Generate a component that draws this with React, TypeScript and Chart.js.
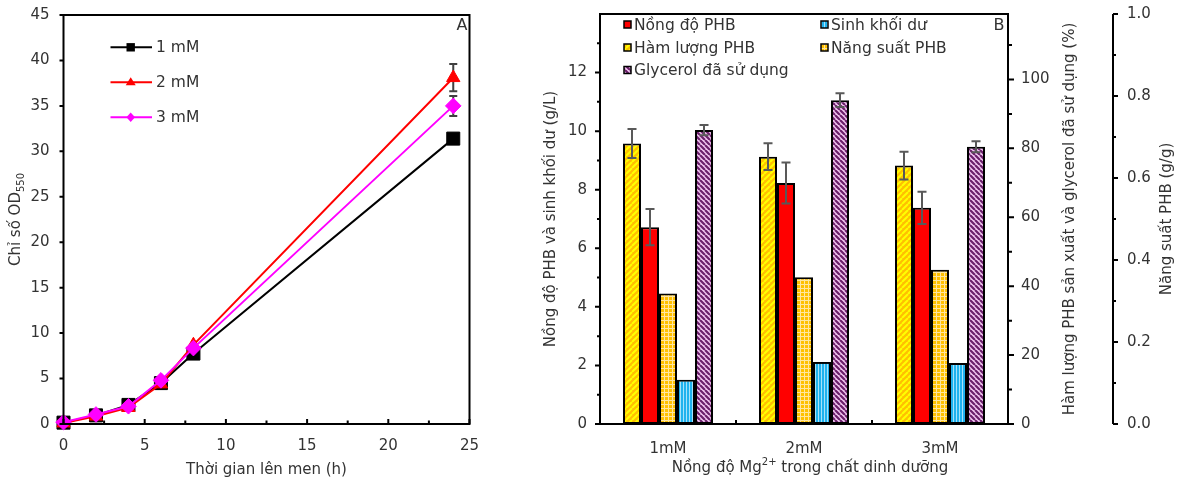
import React, { useEffect, useRef } from 'react';
import { Chart, registerables } from 'chart.js';

Chart.register(...registerables);

const FONT_FAMILY = '"DejaVu Sans", "Liberation Sans", sans-serif';
const TEXT_COLOR = '#333333';

// ---------------- Panel A data ----------------
const timeHours = [0, 2, 4, 6, 8, 24];
const od1mM = [0.15, 0.95, 2.1, 4.5, 7.75, 31.4];
const od2mM = [0.1, 0.85, 1.8, 4.4, 8.7, 38.1];
const od3mM = [0.2, 1.05, 1.95, 4.8, 8.35, 35.0];
const od1mMErr = [0, 0, 0, 0, 0, 0.5];
const od2mMErr = [0, 0, 0, 0, 0, 1.5];
const od3mMErr = [0, 0, 0, 0, 0, 1.1];
const seriesLabelsA = ['1 mM', '2 mM', '3 mM'];
const xTicksA = [0, 5, 10, 15, 20, 25];
const xMinorTicksA = [2.5, 7.5, 12.5, 17.5, 22.5];
const yTicksA = [0, 5, 10, 15, 20, 25, 30, 35, 40, 45];
const xTitleA = 'Thời gian lên men (h)';
const yTitleA = 'Chỉ số OD';
const yTitleASub = '550';
const panelLabelA = 'A';

// ---------------- Panel B data ----------------
const mgLevels = ['1mM', '2mM', '3mM'];
const phbContent = [81.4, 77.6, 75.0]; // %
const phbContentErr = [4.2, 3.9, 4.0];
const phbConcentration = [6.72, 8.23, 7.38]; // g/L
const phbConcentrationErr = [0.62, 0.7, 0.55];
const phbYield = [0.318, 0.358, 0.376]; // g/g
const residualBiomass = [1.51, 2.12, 2.08]; // g/L
const glycerolUsed = [85.3, 94.0, 80.5]; // %
const glycerolUsedErr = [1.5, 2.0, 1.6];
const seriesLabelsB = ['Hàm lượng PHB', 'Nồng độ PHB', 'Năng suất PHB', 'Sinh khối dư', 'Glycerol đã sử dụng'];
const yTicksLeftB = [0, 2, 4, 6, 8, 10, 12];
const yMinorLeftB = [1, 3, 5, 7, 9, 11, 13];
const yTicksPctB = [0, 20, 40, 60, 80, 100];
const yMinorPctB = [10, 30, 50, 70, 90, 110];
const yTicksYieldB = [0, 0.2, 0.4, 0.6, 0.8, 1.0];
const yMinorYieldB = [0.1, 0.3, 0.5, 0.7, 0.9];
const yTitleLeftB = 'Nồng độ PHB và sinh khối dư (g/L)';
const yTitlePctB = 'Hàm lượng PHB sản xuất và glycerol đã sử dụng (%)';
const yTitleYieldB = 'Năng suất PHB (g/g)';
const xTitleB1 = 'Nồng độ Mg';
const xTitleBSup = '2+';
const xTitleB2 = ' trong chất dinh dưỡng';
const panelLabelB = 'B';

const font = (size: number) => `${size}px ${FONT_FAMILY}`;

function zeroPad(s: any) {
  s.paddingTop = 0;
  s.paddingBottom = 0;
  s.paddingLeft = 0;
  s.paddingRight = 0;
}

function makePattern(target: CanvasRenderingContext2D, w: number, h: number, draw: (c: CanvasRenderingContext2D) => void) {
  const cv = document.createElement('canvas');
  cv.width = w;
  cv.height = h;
  const c = cv.getContext('2d')!;
  draw(c);
  return target.createPattern(cv, 'repeat')!;
}

function stripes(c: CanvasRenderingContext2D, s: number, bg: string, fg: string, lw: number, forward: boolean) {
  c.fillStyle = bg;
  c.fillRect(0, 0, s, s);
  c.strokeStyle = fg;
  c.lineWidth = lw;
  c.beginPath();
  for (let k = -1; k <= 1; k++) {
    if (forward) {
      c.moveTo(k * s, s);
      c.lineTo(k * s + s, 0);
    } else {
      c.moveTo(k * s, 0);
      c.lineTo(k * s + s, s);
    }
  }
  c.stroke();
}

function drawRotatedText(ctx: CanvasRenderingContext2D, text: string, x: number, y: number, size: number) {
  ctx.save();
  ctx.translate(x, y);
  ctx.rotate(-Math.PI / 2);
  ctx.font = font(size);
  ctx.fillStyle = TEXT_COLOR;
  ctx.textAlign = 'center';
  ctx.textBaseline = 'middle';
  ctx.fillText(text, 0, 0);
  ctx.restore();
}

function drawMarker(ctx: CanvasRenderingContext2D, style: string, x: number, y: number, color: string) {
  ctx.fillStyle = color;
  ctx.beginPath();
  if (style === 'rect') {
    ctx.rect(x - 4.2, y - 4.2, 8.4, 8.4);
  } else if (style === 'triangle') {
    ctx.moveTo(x, y - 5);
    ctx.lineTo(x + 5, y + 3);
    ctx.lineTo(x - 5, y + 3);
    ctx.closePath();
  } else {
    ctx.moveTo(x, y - 4.8);
    ctx.lineTo(x + 4.3, y);
    ctx.lineTo(x, y + 4.8);
    ctx.lineTo(x - 4.3, y);
    ctx.closePath();
  }
  ctx.fill();
}

function configA(): any {
  const colorsA = ['#000000', '#FF0000', '#FF00FF'];
  const stylesA = ['rect', 'triangle', 'rectRot'];
  const radiiA = [9.2, 7.7, 7.8];
  const valuesA = [od1mM, od2mM, od3mM];
  const errsA = [od1mMErr, od2mMErr, od3mMErr];

  const datasets = valuesA.map((vals, i) => ({
    label: seriesLabelsA[i],
    data: timeHours.map((t, j) => ({ x: t, y: vals[j] })),
    borderColor: colorsA[i],
    backgroundColor: colorsA[i],
    pointBackgroundColor: colorsA[i],
    pointBorderColor: colorsA[i],
    pointBorderWidth: 1,
    pointStyle: stylesA[i],
    pointRadius: radiiA[i],
    borderWidth: 2,
    tension: 0,
    clip: false,
    order: 3 - i,
  }));

  const plugin = {
    id: 'panelA',
    beforeDatasetsDraw(chart: any) {
      const { ctx, scales } = chart;
      ctx.save();
      ctx.strokeStyle = '#404040';
      ctx.lineWidth = 2;
      valuesA.forEach((vals, di) => {
        timeHours.forEach((t, i) => {
          const e = errsA[di][i];
          if (!e) return;
          const px = scales.x.getPixelForValue(t);
          const top = scales.y.getPixelForValue(vals[i] + e);
          const bot = scales.y.getPixelForValue(vals[i] - e);
          ctx.beginPath();
          ctx.moveTo(px, top);
          ctx.lineTo(px, bot);
          ctx.moveTo(px - 4, top);
          ctx.lineTo(px + 4, top);
          ctx.moveTo(px - 4, bot);
          ctx.lineTo(px + 4, bot);
          ctx.stroke();
        });
      });
      ctx.restore();
    },
    afterDraw(chart: any) {
      const { ctx, chartArea: a, scales } = chart;
      ctx.save();
      ctx.strokeStyle = '#000';
      ctx.lineWidth = 2;
      ctx.strokeRect(a.left, a.top, a.right - a.left, a.bottom - a.top);
      ctx.beginPath();
      yTicksA.forEach((v) => {
        const py = scales.y.getPixelForValue(v);
        ctx.moveTo(a.left, py);
        ctx.lineTo(a.left - 4, py);
      });
      xTicksA.forEach((v) => {
        const px = scales.x.getPixelForValue(v);
        ctx.moveTo(px, a.bottom);
        ctx.lineTo(px, a.bottom - 5);
      });
      xMinorTicksA.forEach((v) => {
        const px = scales.x.getPixelForValue(v);
        ctx.moveTo(px, a.bottom);
        ctx.lineTo(px, a.bottom - 3.5);
      });
      ctx.stroke();

      // x title
      ctx.fillStyle = TEXT_COLOR;
      ctx.font = font(15);
      ctx.textAlign = 'center';
      ctx.textBaseline = 'middle';
      ctx.fillText(xTitleA, (a.left + a.right) / 2, 470);

      // y title with subscript
      ctx.save();
      ctx.translate(16, (a.top + a.bottom) / 2);
      ctx.rotate(-Math.PI / 2);
      ctx.font = font(15);
      const w1 = ctx.measureText(yTitleA).width;
      ctx.font = font(10);
      const w2 = ctx.measureText(yTitleASub).width;
      const start = -(w1 + w2) / 2;
      ctx.textAlign = 'left';
      ctx.textBaseline = 'middle';
      ctx.font = font(15);
      ctx.fillText(yTitleA, start, 0);
      ctx.font = font(10);
      ctx.fillText(yTitleASub, start + w1, 5);
      ctx.restore();

      // legend
      const rowY = [47.3, 82.3, 117.3];
      seriesLabelsA.forEach((lab, i) => {
        const y = rowY[i];
        ctx.strokeStyle = colorsA[i];
        ctx.lineWidth = 2;
        ctx.beginPath();
        ctx.moveTo(110.5, y);
        ctx.lineTo(152, y);
        ctx.stroke();
        drawMarker(ctx, stylesA[i], 130.7, y, colorsA[i]);
        ctx.fillStyle = TEXT_COLOR;
        ctx.font = font(15.5);
        ctx.textAlign = 'left';
        ctx.textBaseline = 'middle';
        ctx.fillText(lab, 156, y + 1);
      });

      // panel label
      ctx.font = font(16);
      ctx.textAlign = 'center';
      ctx.fillStyle = TEXT_COLOR;
      ctx.fillText(panelLabelA, 462, 26);
      ctx.restore();
    },
  };

  return {
    type: 'line',
    data: { datasets },
    plugins: [plugin],
    options: {
      responsive: false,
      animation: false,
      devicePixelRatio: 1,
      layout: { autoPadding: false, padding: { left: 0, top: 15, right: 30.5, bottom: 0 } },
      plugins: { legend: { display: false }, tooltip: { enabled: false } },
      scales: {
        x: {
          type: 'linear',
          min: 0,
          max: 25,
          grid: { display: false, drawTicks: false },
          border: { display: false },
          ticks: { stepSize: 5, padding: 13, color: TEXT_COLOR, font: { family: FONT_FAMILY, size: 15 } },
          afterFit: (s: any) => { s.height = 55; zeroPad(s); },
        },
        y: {
          type: 'linear',
          min: 0,
          max: 45,
          grid: { display: false, drawTicks: false },
          border: { display: false },
          ticks: { stepSize: 5, padding: 14, color: TEXT_COLOR, font: { family: FONT_FAMILY, size: 15 } },
          afterFit: (s: any) => { s.width = 63.5; zeroPad(s); },
        },
      },
    },
  };
}

function configB(target: CanvasRenderingContext2D): any {
  const patYellow = makePattern(target, 6, 6, (c) => stripes(c, 6, '#FFC000', '#FFFF00', 2, true));
  const patPurple = makePattern(target, 5, 5, (c) => stripes(c, 5, '#F2C6F0', '#6B1F6B', 2.2, false));
  const patBlue = makePattern(target, 3, 3, (c) => {
    c.fillStyle = '#1FB2EE';
    c.fillRect(0, 0, 3, 3);
    c.fillStyle = '#A6E2FA';
    c.fillRect(0, 0, 1, 3);
  });
  const patOrange = makePattern(target, 4, 4, (c) => {
    c.fillStyle = '#FFC000';
    c.fillRect(0, 0, 4, 4);
    c.fillStyle = '#FFE6A0';
    c.fillRect(0, 0, 4, 1);
    c.fillRect(0, 0, 1, 4);
  });
  const fills = [patYellow, '#FF0000', patOrange, patBlue, patPurple];
  const valuesB = [phbContent, phbConcentration, phbYield, residualBiomass, glycerolUsed];
  const axesB = ['y1', 'y', 'y2', 'y', 'y1'];
  const errsB: (number[] | null)[] = [phbContentErr, phbConcentrationErr, null, null, glycerolUsedErr];

  const datasets = valuesB.map((vals, i) => ({
    label: seriesLabelsB[i],
    data: vals,
    yAxisID: axesB[i],
    backgroundColor: fills[i],
    borderColor: '#000',
    borderWidth: 2,
    borderSkipped: false,
    inflateAmount: 0,
    barThickness: 18,
  }));

  const plugin = {
    id: 'panelB',
    afterDatasetsDraw(chart: any) {
      const { ctx } = chart;
      ctx.save();
      ctx.strokeStyle = '#595959';
      ctx.lineWidth = 2;
      errsB.forEach((errs, di) => {
        if (!errs) return;
        const meta = chart.getDatasetMeta(di);
        const scale = chart.scales[axesB[di]];
        meta.data.forEach((bar: any, i: number) => {
          const v = valuesB[di][i];
          const top = scale.getPixelForValue(v + errs[i]);
          const bot = scale.getPixelForValue(v - errs[i]);
          const px = bar.x;
          ctx.beginPath();
          ctx.moveTo(px, top);
          ctx.lineTo(px, bot);
          ctx.moveTo(px - 4.5, top);
          ctx.lineTo(px + 4.5, top);
          ctx.moveTo(px - 4.5, bot);
          ctx.lineTo(px + 4.5, bot);
          ctx.stroke();
        });
      });
      ctx.restore();
    },
    afterDraw(chart: any) {
      const { ctx, chartArea: a, scales } = chart;
      ctx.save();
      ctx.strokeStyle = '#000';
      ctx.lineWidth = 2;
      ctx.strokeRect(a.left, a.top, a.right - a.left, a.bottom - a.top);
      // third axis line
      const x3 = scales.y2.left;
      ctx.beginPath();
      ctx.moveTo(x3, a.top);
      ctx.lineTo(x3, a.bottom);
      // left ticks
      yTicksLeftB.forEach((v) => { const p = scales.y.getPixelForValue(v); ctx.moveTo(a.left, p); ctx.lineTo(a.left - 5, p); });
      yMinorLeftB.forEach((v) => { const p = scales.y.getPixelForValue(v); ctx.moveTo(a.left, p); ctx.lineTo(a.left - 3, p); });
      // right % ticks
      yTicksPctB.forEach((v) => { const p = scales.y1.getPixelForValue(v); ctx.moveTo(a.right, p); ctx.lineTo(a.right + 6, p); });
      yMinorPctB.forEach((v) => { const p = scales.y1.getPixelForValue(v); ctx.moveTo(a.right, p); ctx.lineTo(a.right + 4, p); });
      // yield ticks
      yTicksYieldB.forEach((v) => { const p = scales.y2.getPixelForValue(v); ctx.moveTo(x3, p); ctx.lineTo(x3 + 5, p); });
      yMinorYieldB.forEach((v) => { const p = scales.y2.getPixelForValue(v); ctx.moveTo(x3, p); ctx.lineTo(x3 + 3, p); });
      // category boundary ticks
      for (let i = 0; i < mgLevels.length - 1; i++) {
        const p = (scales.x.getPixelForValue(i) + scales.x.getPixelForValue(i + 1)) / 2;
        ctx.moveTo(p, a.bottom);
        ctx.lineTo(p, a.bottom - 4);
      }
      ctx.stroke();

      // axis titles
      const cy = (a.top + a.bottom) / 2;
      drawRotatedText(ctx, yTitleLeftB, 51, cy, 15);
      drawRotatedText(ctx, yTitlePctB, 570, cy, 15);
      drawRotatedText(ctx, yTitleYieldB, 667, cy, 15);

      // x title with superscript
      ctx.font = font(15);
      const w1 = ctx.measureText(xTitleB1).width;
      const w3 = ctx.measureText(xTitleB2).width;
      ctx.font = font(10);
      const w2 = ctx.measureText(xTitleBSup).width;
      const cx = 310;
      const start = cx - (w1 + w2 + w3) / 2;
      ctx.fillStyle = TEXT_COLOR;
      ctx.textAlign = 'left';
      ctx.textBaseline = 'middle';
      ctx.font = font(15);
      ctx.fillText(xTitleB1, start, 468);
      ctx.fillText(xTitleB2, start + w1 + w2, 468);
      ctx.font = font(10);
      ctx.fillText(xTitleBSup, start + w1, 462);

      // legend
      const order = [1, 3, 0, 2, 4];
      const colX = [124, 321];
      const rowY = [24.5, 47.5, 70];
      order.forEach((di, k) => {
        const x = colX[k % 2];
        const y = rowY[Math.floor(k / 2)];
        ctx.fillStyle = fills[di];
        ctx.fillRect(x, y - 3.5, 7, 7);
        ctx.strokeStyle = '#000';
        ctx.lineWidth = 1.5;
        ctx.strokeRect(x, y - 3.5, 7, 7);
        ctx.fillStyle = TEXT_COLOR;
        ctx.font = font(15.5);
        ctx.textAlign = 'left';
        ctx.textBaseline = 'middle';
        ctx.fillText(seriesLabelsB[di], x + 10, y + 1);
      });

      ctx.font = font(16);
      ctx.textAlign = 'center';
      ctx.textBaseline = 'middle';
      ctx.fillStyle = TEXT_COLOR;
      ctx.fillText(panelLabelB, 499, 26);
      ctx.restore();
    },
  };

  const tickFont = { family: FONT_FAMILY, size: 15 };
  return {
    type: 'bar',
    data: { labels: mgLevels, datasets },
    plugins: [plugin],
    options: {
      responsive: false,
      animation: false,
      devicePixelRatio: 1,
      layout: { autoPadding: false, padding: { left: 0, top: 14, right: 0, bottom: 0 } },
      plugins: { legend: { display: false }, tooltip: { enabled: false } },
      scales: {
        x: {
          type: 'category',
          offset: true,
          grid: { display: false, drawTicks: false },
          border: { display: false },
          ticks: { padding: 16, color: TEXT_COLOR, font: tickFont },
          afterFit: (s: any) => { s.height = 55; zeroPad(s); },
        },
        y: {
          type: 'linear',
          position: 'left',
          min: 0,
          max: 14,
          grid: { display: false, drawTicks: false },
          border: { display: false },
          ticks: { padding: 13, color: TEXT_COLOR, font: tickFont },
          afterBuildTicks: (s: any) => { s.ticks = yTicksLeftB.map((v) => ({ value: v })); },
          afterFit: (s: any) => { s.width = 100; zeroPad(s); },
        },
        y1: {
          type: 'linear',
          position: 'right',
          weight: 0,
          min: 0,
          max: 119,
          grid: { display: false, drawTicks: false },
          border: { display: false },
          ticks: { padding: 13, color: TEXT_COLOR, font: tickFont },
          afterBuildTicks: (s: any) => { s.ticks = yTicksPctB.map((v) => ({ value: v })); },
          afterFit: (s: any) => { s.width = 105; zeroPad(s); },
        },
        y2: {
          type: 'linear',
          position: 'right',
          weight: 1,
          min: 0,
          max: 1,
          grid: { display: false, drawTicks: false },
          border: { display: false },
          ticks: { padding: 14, color: TEXT_COLOR, font: tickFont, callback: (v: number) => Number(v).toFixed(1) },
          afterBuildTicks: (s: any) => { s.ticks = yTicksYieldB.map((v) => ({ value: v })); },
          afterFit: (s: any) => { s.width = 73; zeroPad(s); },
        },
      },
    },
  };
}

export default function App() {
  const refA = useRef<HTMLCanvasElement>(null);
  const refB = useRef<HTMLCanvasElement>(null);

  useEffect(() => {
    const chartA = new Chart(refA.current!, configA());
    const ctxB = refB.current!.getContext('2d')!;
    const chartB = new Chart(refB.current!, configB(ctxB));
    return () => {
      chartA.destroy();
      chartB.destroy();
    };
  }, []);

  return (
    <div style={{ position: 'absolute', left: 0, top: 0, width: 1186, height: 479, background: '#fff', overflow: 'hidden' }}>
      <canvas ref={refA} width={500} height={479} style={{ position: 'absolute', left: 0, top: 0, width: 500, height: 479, display: 'block' }} />
      <canvas ref={refB} width={686} height={479} style={{ position: 'absolute', left: 500, top: 0, width: 686, height: 479, display: 'block' }} />
    </div>
  );
}
